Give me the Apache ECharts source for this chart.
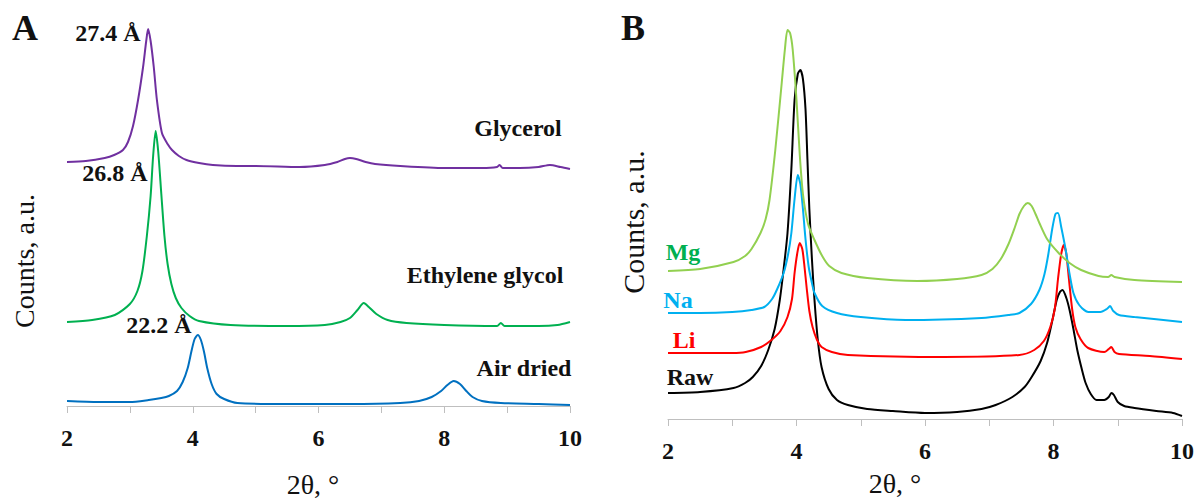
<!DOCTYPE html>
<html>
<head>
<meta charset="utf-8">
<style>
  html, body { margin: 0; padding: 0; background: #fff; }
  #chart { width: 1197px; height: 499px; }
</style>
<script src="https://cdn.jsdelivr.net/npm/echarts@6/dist/echarts.min.js"></script>
</head>
<body>
<div id="chart"></div>
<script>
// x ticks (2θ, degrees)
var xTicks = [2, 4, 6, 8, 10];

// Panel A: air dried / ethylene glycol / glycerol (offset traces)
var glyX = [2, 2.3, 2.6, 2.75, 2.89, 2.97, 3.05, 3.13, 3.21, 3.26, 3.29, 3.33, 3.38, 3.43, 3.51, 3.6, 3.67, 3.78, 3.9, 4.1, 4.32, 4.7, 5.0, 5.7, 6.1, 6.3, 6.42, 6.5, 6.6, 6.75, 6.9, 7.3, 8.0, 8.6, 8.84, 8.88, 8.93, 9.2, 9.5, 9.68, 9.85, 10];
var glyY = [244, 245, 248, 251, 256, 264, 280, 306, 339, 365, 377, 365, 339, 306, 273, 262, 256, 250, 246, 243, 241, 240, 240, 239, 241, 244, 247, 248, 247, 244, 242, 240, 238, 238, 239, 241, 238, 238, 239, 241, 239, 237];

var egX = [2, 2.4, 2.76, 3.0, 3.12, 3.2, 3.27, 3.33, 3.37, 3.41, 3.45, 3.5, 3.55, 3.6, 3.66, 3.73, 3.82, 3.95, 4.1, 4.6, 5.5, 6.1, 6.35, 6.5, 6.62, 6.72, 6.8, 6.92, 7.1, 7.4, 8.0, 8.84, 8.9, 8.96, 9.5, 9.8, 10];
var egY = [84, 86, 91, 102, 115, 135, 170, 210, 250, 275, 255, 212, 170, 142, 122, 108, 98, 90, 85, 81, 80, 81, 84, 88, 96, 103, 99, 92, 86, 83, 81, 80, 83, 80, 80, 81, 84];

var airX = [2, 2.5, 3.0, 3.3, 3.5, 3.62, 3.75, 3.84, 3.92, 3.98, 4.03, 4.08, 4.13, 4.18, 4.23, 4.3, 4.38, 4.5, 4.71, 5.5, 6.5, 7.3, 7.6, 7.8, 7.95, 8.05, 8.15, 8.25, 8.35, 8.45, 8.6, 8.9, 9.5, 10];
var airY = [5, 4, 4, 6, 8, 10, 15, 24, 38, 55, 67, 71, 66, 54, 38, 22, 12, 7, 3, 2, 2, 3, 5, 9, 15, 21, 25, 22, 15, 9, 5, 3, 2, 1];

// Panel B: Mg / Na / Li / Raw
var mgX = [2, 2.5, 3.02, 3.2, 3.3, 3.44, 3.52, 3.58, 3.67, 3.77, 3.82, 3.86, 3.9, 3.94, 4.0, 4.05, 4.1, 4.18, 4.28, 4.4, 4.51, 4.7, 5.1, 5.88, 6.5, 6.88, 7.05, 7.18, 7.3, 7.4, 7.47, 7.54, 7.6, 7.66, 7.72, 7.78, 7.9, 8.08, 8.25, 8.43, 8.7, 8.85, 8.9, 8.95, 9.26, 10];
var mgY = [148, 150, 157, 163, 170, 186, 200, 219, 269, 336, 370, 389, 386, 370, 319, 265, 225, 195, 179, 163, 153, 146, 141, 138, 140, 144, 150, 160, 175, 192, 205, 213, 216, 213, 205, 196, 180, 166, 156, 149, 143, 142, 144, 142, 139, 137];

var naX = [2, 2.5, 3.0, 3.3, 3.5, 3.62, 3.7, 3.8, 3.87, 3.92, 3.97, 4.02, 4.06, 4.1, 4.14, 4.19, 4.24, 4.28, 4.4, 4.63, 5.0, 5.7, 6.88, 7.3, 7.47, 7.65, 7.78, 7.86, 7.92, 7.98, 8.03, 8.07, 8.12, 8.19, 8.25, 8.31, 8.4, 8.54, 8.73, 8.83, 8.88, 8.93, 9.02, 9.26, 10];
var naY = [106, 106, 107, 109, 112, 120, 130, 146, 165, 186, 220, 244, 235, 210, 180, 152, 136, 126, 113, 106, 102, 99, 101, 104, 106, 115, 129, 145, 165, 190, 205, 206, 192, 169, 145, 126, 114, 107, 107, 110, 113, 108, 104, 102, 97];

var liX = [2, 3.0, 3.21, 3.45, 3.61, 3.75, 3.86, 3.93, 3.97, 4.01, 4.05, 4.09, 4.12, 4.16, 4.2, 4.25, 4.32, 4.39, 4.55, 4.8, 6.3, 7.47, 7.7, 7.85, 7.95, 8.02, 8.07, 8.12, 8.16, 8.2, 8.24, 8.29, 8.34, 8.42, 8.54, 8.79, 8.86, 8.9, 8.95, 9.02, 9.5, 10];
var liY = [66, 66, 67, 72, 79, 88, 102, 120, 146, 165, 176, 170, 155, 130, 108, 92, 79, 72, 67, 64, 62, 64, 69, 78, 92, 110, 140, 165, 174, 165, 140, 110, 92, 80, 71, 67, 70, 72, 67, 65, 63, 60];

var rawX = [2, 2.5, 3.02, 3.2, 3.32, 3.45, 3.56, 3.66, 3.74, 3.8, 3.86, 3.92, 3.97, 4.02, 4.06, 4.1, 4.14, 4.17, 4.2, 4.24, 4.28, 4.33, 4.39, 4.5, 4.63, 4.8, 5.1, 5.5, 6.0, 6.5, 6.88, 7.1, 7.36, 7.55, 7.66, 7.8, 7.9, 7.98, 8.05, 8.1, 8.14, 8.2, 8.25, 8.31, 8.37, 8.44, 8.5, 8.58, 8.67, 8.79, 8.86, 8.9, 8.94, 9.0, 9.1, 9.26, 9.6, 9.86, 10];
var rawY = [26, 27, 31, 36, 42, 53, 69, 90, 119, 150, 186, 250, 319, 345, 349, 340, 310, 260, 210, 160, 119, 80, 52, 30, 19, 14, 10, 8, 6, 7, 10, 14, 22, 32, 42, 58, 76, 98, 119, 127, 129, 121, 109, 90, 69, 50, 36, 25, 19, 19, 22, 26, 24, 17, 13, 11, 8, 6, 3];

function pairs(xs, ys) {
  return xs.map(function(x, i) { return [x, ys[i]]; });
}

var serif = '"Liberation Serif", "DejaVu Serif", serif';
var axisGrey = '#bfbfbf';

function xAxisFor(gridIndex) {
  return {
    type: 'value', gridIndex: gridIndex, min: 2, max: 10, interval: 1,
    axisLine: { show: true, lineStyle: { color: axisGrey, width: 1 } },
    axisTick: { show: true, length: 7, lineStyle: { color: axisGrey } },
    splitLine: { show: false },
    axisLabel: {
      margin: 20, color: '#111', fontFamily: serif, fontWeight: 'bold', fontSize: 24,
      formatter: function(v) { return xTicks.indexOf(v) >= 0 ? String(v) : ''; }
    }
  };
}

function yAxisFor(gridIndex) {
  return {
    type: 'value', gridIndex: gridIndex, min: 0, max: 400,
    show: false, splitLine: { show: false }
  };
}

function line(name, xi, xs, ys, color) {
  return {
    name: name, type: 'line', xAxisIndex: xi, yAxisIndex: xi,
    data: pairs(xs, ys), showSymbol: false, smooth: 0.25,
    lineStyle: { color: color, width: 2 }, itemStyle: { color: color }
  };
}

function label(text, x, y, color, size, weight) {
  return {
    type: 'text', x: x, y: y, silent: true,
    style: {
      text: text, fill: color || '#111', align: 'center', verticalAlign: 'middle',
      font: (weight || 'bold') + ' ' + (size || 24) + 'px ' + serif
    }
  };
}

function vlabel(text, x, y, size, weight) {
  var t = label(text, x, y, '#111', size, weight);
  t.rotation = Math.PI / 2;
  return t;
}

var chart = echarts.init(document.getElementById('chart'), null, { renderer: 'svg' });
chart.setOption({
  animation: false,
  grid: [
    { left: 67, top: 6, width: 503, height: 400 },
    { left: 668, top: 19, width: 515, height: 400 }
  ],
  xAxis: [xAxisFor(0), xAxisFor(1)],
  yAxis: [yAxisFor(0), yAxisFor(1)],
  series: [
    line('Glycerol', 0, glyX, glyY, '#7030a0'),
    line('Ethylene glycol', 0, egX, egY, '#00b050'),
    line('Air dried', 0, airX, airY, '#0070c0'),
    line('Raw', 1, rawX, rawY, '#000000'),
    line('Li', 1, liX, liY, '#ff0000'),
    line('Na', 1, naX, naY, '#00b0f0'),
    line('Mg', 1, mgX, mgY, '#92d050')
  ],
  graphic: [
    label('A', 25, 28, '#111', 36),
    label('B', 633, 28, '#111', 36),
    label('27.4 Å', 108, 33),
    label('26.8 Å', 115, 173),
    label('22.2 Å', 159, 325),
    label('Glycerol', 518, 128),
    label('Ethylene glycol', 485, 275),
    label('Air dried', 524, 368),
    label('Mg', 683, 252, '#00b050'),
    label('Na', 678, 300, '#00b0f0'),
    label('Li', 684, 340, '#ff0000'),
    label('Raw', 690, 377, '#111'),
    vlabel('Counts, a.u.', 24, 261, 28, 'normal'),
    vlabel('Counts, a.u.', 633, 222, 30, 'normal'),
    label('2θ, °', 313, 484, '#111', 28, 'normal'),
    label('2θ, °', 895, 483, '#111', 28, 'normal')
  ]
});
window.addEventListener('resize', function() { chart.resize(); });
</script>
</body>
</html>
